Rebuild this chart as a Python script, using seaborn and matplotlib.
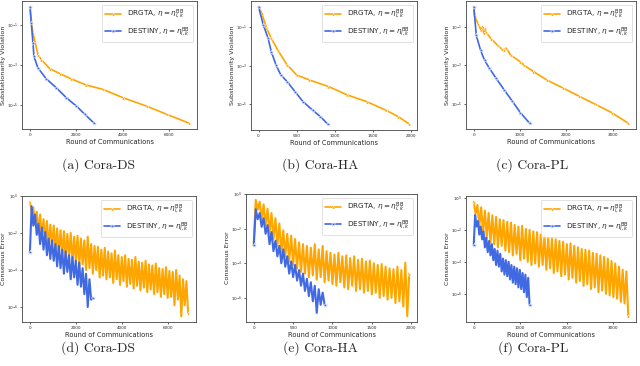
import numpy as np
import pandas as pd
import matplotlib
matplotlib.use("Agg")
import matplotlib.pyplot as plt
import seaborn as sns
from matplotlib.ticker import NullLocator

ORANGE = "orange"
BLUE = "royalblue"

# ---- top row: substationarity violation (log10 values) ----
ds_drgta_x = [0, 58, 130, 345, 490, 850, 1280, 1780, 2400, 3150, 4010, 5020, 5880, 6850]
ds_drgta_y = [-0.07, -0.73, -1.4, -2.48, -2.73, -3.18, -3.43, -3.7, -4.0, -4.23, -4.65, -5.07, -5.48, -5.93]
ds_destiny_x = [0, 58, 130, 173, 345, 705, 1137, 1570, 2000, 2360, 2760]
ds_destiny_y = [-0.07, -0.9, -1.9, -2.57, -3.15, -3.7, -4.15, -4.65, -5.07, -5.48, -5.93]

ha_drgta_x = [0, 42, 104, 167, 250, 375, 500, 667, 917, 1167, 1417, 1667, 1833, 1980]
ha_drgta_y = [0.05, -0.27, -1.05, -1.57, -2.18, -2.96, -3.48, -3.74, -4.08, -4.52, -4.86, -5.3, -5.64, -6.03]
ha_destiny_x = [0, 62, 125, 167, 229, 292, 375, 479, 583, 708, 812, 908]
ha_destiny_y = [0.05, -0.88, -1.57, -2.27, -2.96, -3.48, -3.82, -4.35, -4.86, -5.3, -5.64, -6.03]

pl_drgta_x = [0, 21, 92, 162, 190, 215, 240, 268, 374, 515, 600, 656, 700, 797, 1009, 1080,
              1291, 1574, 1927, 2280, 2633, 2985, 3338]
pl_drgta_y = [0.02, -0.44, -0.86, -1.2, -1.0, -1.35, -1.1, -1.3, -1.63, -1.97, -2.15, -2.23, -2.1,
              -2.48, -2.82, -2.99, -3.33, -3.76, -4.18, -4.61, -5.03, -5.46, -6.0]
pl_destiny_x = [0, 56, 148, 233, 339, 480, 656, 833, 1009, 1207]
pl_destiny_y = [0.02, -1.46, -2.23, -2.74, -3.16, -3.67, -4.27, -4.86, -5.46, -6.0]

# ---- bottom row: consensus error (log10 values, logged every `step` rounds) ----
ds_step = 74
ds_drgta_err = [-0.33, -0.8, -0.62, -1.55, -0.85, -1.95, -1.0, -2.2, -1.25, -2.5, -1.35, -2.75,
                -1.55, -2.7, -1.6, -3.0, -1.75, -3.1, -1.85, -3.2, -1.9, -3.4, -2.05, -3.3,
                -2.0, -3.6, -2.2, -3.55, -2.15, -3.8, -2.3, -3.7, -2.4, -4.0, -2.2, -3.9,
                -2.6, -4.2, -2.7, -4.0, -2.75, -4.4, -2.9, -4.3, -2.8, -4.5, -3.0, -4.4,
                -3.1, -4.7, -2.95, -4.5, -3.2, -4.8, -3.3, -4.6, -3.2, -4.9, -3.4, -4.75,
                -3.45, -5.0, -3.3, -4.85, -3.55, -5.1, -3.6, -4.95, -3.5, -5.2, -3.7, -5.05,
                -3.75, -5.3, -3.65, -5.2, -3.9, -5.45, -3.95, -5.3, -3.85, -5.5, -4.05, -5.45,
                -4.1, -5.9, -4.0, -5.6, -4.3, -6.5, -4.5, -5.9, -4.6, -6.3]
ds_destiny_err = [-3.05, -0.55, -1.6, -1.0, -2.1, -1.5, -2.6, -1.7, -2.9, -1.95, -3.2, -2.3,
                  -3.4, -2.4, -3.5, -2.6, -3.8, -2.7, -3.9, -2.9, -4.2, -3.0, -4.1, -3.2,
                  -4.5, -3.3, -4.4, -3.5, -4.8, -3.6, -4.9, -3.9, -5.3, -4.2, -6.0, -4.5,
                  -5.6, -5.5]

ha_step = 25
ha_drgta_err = [-2.8, -0.34, -0.9, -0.45, -1.5, -0.6, -1.8, -0.85, -2.3, -1.1, -2.6, -1.4,
                -3.0, -1.7, -3.4, -2.1, -3.6, -2.3, -3.9, -2.4, -4.1, -2.6, -4.3, -2.8,
                -4.5, -2.9, -4.6, -3.0, -4.8, -3.1, -4.7, -2.9, -4.95, -3.2, -4.8, -3.0,
                -5.1, -3.3, -5.0, -3.4, -5.2, -3.5, -5.3, -3.4, -5.1, -3.6, -5.4, -3.55,
                -5.5, -3.7, -5.3, -3.6, -5.6, -3.8, -5.5, -3.75, -5.7, -3.9, -5.6, -3.85,
                -5.8, -4.0, -5.7, -4.1, -6.0, -4.05, -5.9, -4.2, -6.1, -4.3, -6.0, -4.35,
                -6.3, -4.2, -6.2, -4.4, -6.5, -3.97, -7.06, -4.6]
ha_destiny_err = [-2.97, -0.88, -1.46, -1.1, -1.9, -1.4, -2.3, -1.8, -2.9, -2.2, -3.3, -2.7,
                  -3.6, -3.0, -4.0, -3.2, -4.2, -3.6, -4.6, -3.9, -4.8, -4.1, -5.0, -4.4,
                  -5.3, -4.6, -5.6, -4.9, -5.9, -5.1, -6.2, -5.3, -6.87, -5.5, -6.4, -5.7,
                  -6.4]

pl_drgta_step = 40
pl_drgta_err = [-0.25, -1.0, -0.45, -1.8, -0.6, -2.2, -0.8, -2.5, -0.95, -2.8, -1.1, -2.9,
                -1.2, -3.1, -1.35, -3.0, -1.4, -3.3, -1.5, -3.4, -1.55, -3.6, -1.7, -3.5,
                -1.8, -3.9, -1.75, -3.8, -1.95, -4.0, -2.0, -4.2, -2.1, -4.1, -2.15, -4.3,
                -2.3, -4.2, -2.35, -4.5, -2.5, -4.4, -2.55, -4.7, -2.6, -4.6, -2.7, -4.9,
                -2.75, -4.8, -2.9, -5.1, -2.85, -5.0, -3.0, -5.3, -3.1, -5.2, -3.2, -5.5,
                -3.25, -5.4, -3.3, -5.7, -3.45, -5.6, -3.5, -5.9, -3.6, -5.8, -3.7, -6.0,
                -3.8, -6.1, -3.95, -6.2, -4.1, -6.3, -4.3, -6.5, -4.5, -6.6, -4.6, -7.4]
pl_destiny_step = 30
pl_destiny_err = [-2.96, -1.08, -1.8, -1.45, -2.3, -1.8, -2.6, -2.1, -3.1, -2.5, -3.4, -2.7,
                  -3.6, -2.9, -3.9, -3.2, -4.2, -3.3, -4.3, -3.5, -4.6, -3.8, -4.8, -3.9,
                  -4.9, -4.0, -5.1, -4.2, -5.3, -4.3, -5.4, -4.4, -5.6, -4.5, -5.7, -4.7,
                  -5.9, -4.8, -6.2, -5.0, -6.7]

xticks_ds = [0, 2000, 4000, 6000]
xticks_ha = [0, 500, 1000, 1500, 2000]
xticks_pl = [0, 1000, 2000, 3000]

captions_top = ["(a) Cora-DS", "(b) Cora-HA", "(c) Cora-PL"]
captions_bottom = ["(d) Cora-DS", "(e) Cora-HA", "(f) Cora-PL"]
lab_drgta = r"DRGTA, $\eta = \eta^{\mathrm{BB}}_{l,k}$"
lab_destiny = r"DESTINY, $\eta = \eta^{\mathrm{BB}}_{l,k}$"

sns.set_theme(style="ticks", rc={
    "axes.edgecolor": "#444444",
    "axes.linewidth": 0.6,
    "xtick.major.size": 1.5,
    "ytick.major.size": 1.5,
    "xtick.major.width": 0.5,
    "ytick.major.width": 0.5,
    "xtick.labelsize": 3.0,
    "ytick.labelsize": 3.0,
    "xtick.major.pad": 1.5,
    "ytick.major.pad": 1.2,
})

fig = plt.figure(figsize=(6.4, 3.66), dpi=100)


def px_axes(l, t, r, b):
    W, H = 640, 366
    return fig.add_axes([l / W, 1 - b / H, (r - l) / W, (b - t) / H])


def draw(ax, xo, yo, xb, yb, ylabel, yticks, xticks, noisy):
    ax.set_yscale("log")
    lw = 1.5 if noisy else 1.2
    d1 = pd.DataFrame({"x": xo, "y": 10.0 ** np.array(yo)})
    d2 = pd.DataFrame({"x": xb, "y": 10.0 ** np.array(yb)})
    kw_o = dict(marker="^", ms=2.2, mew=0.3)
    kw_b = dict(marker="*", ms=3.5, mew=0.3)
    if noisy:
        kw_o["markevery"] = [0, len(xo) - 1]
        kw_b["markevery"] = [0, len(xb) - 1]
    sns.lineplot(data=d1, x="x", y="y", ax=ax, color=ORANGE, lw=lw,
                 estimator=None, label=lab_drgta, **kw_o)
    sns.lineplot(data=d2, x="x", y="y", ax=ax, color=BLUE, lw=lw,
                 estimator=None, label=lab_destiny, **kw_b)
    ax.set_yticks(yticks)
    ax.set_xticks(xticks)
    ax.yaxis.set_minor_locator(NullLocator())
    for s in ax.spines.values():
        s.set_visible(True)
    ax.set_xlabel("Round of Communications", fontsize=4.8, labelpad=1)
    ax.set_ylabel(ylabel, fontsize=4.6, labelpad=0.8)
    leg = ax.legend(loc="upper right", fontsize=5.2, handlelength=2.2,
                    borderpad=0.5, labelspacing=0.6, framealpha=0.8)
    leg.get_frame().set_linewidth(0.5)
    for line in leg.get_lines():
        line.set_linewidth(1.2)


top = [
    ((22, 1, 197, 129), ds_drgta_x, ds_drgta_y, ds_destiny_x, ds_destiny_y, xticks_ds),
    ((251, 1, 417, 130), ha_drgta_x, ha_drgta_y, ha_destiny_x, ha_destiny_y, xticks_ha),
    ((466, 1, 636, 129), pl_drgta_x, pl_drgta_y, pl_destiny_x, pl_destiny_y, xticks_pl),
]
for box, xo, yo, xb, yb, xt in top:
    ax = px_axes(*box)
    draw(ax, xo, yo, xb, yb, "Substationarity Violation", [1e-1, 1e-3, 1e-5], xt, False)

bottom = [
    ((22, 196, 196, 322), ds_step, ds_drgta_err, ds_step, ds_destiny_err, xticks_ds),
    ((246, 194, 417, 322), ha_step, ha_drgta_err, ha_step, ha_destiny_err, xticks_ha),
    ((466, 196, 636, 322), pl_drgta_step, pl_drgta_err, pl_destiny_step, pl_destiny_err, xticks_pl),
]
for box, so, eo, sb, eb, xt in bottom:
    ax = px_axes(*box)
    xo = np.arange(len(eo)) * so
    xb = np.arange(len(eb)) * sb
    draw(ax, xo, eo, xb, eb, "Consensus Error", [1e0, 1e-2, 1e-4, 1e-6], xt, True)

for cx, txt in zip([98, 320, 532], captions_top):
    fig.text(cx / 640, 1 - 165 / 366, txt, ha="center", va="center",
             fontsize=9.8, family="cmr10")
for cx, txt in zip([98, 320, 533], captions_bottom):
    fig.text(cx / 640, 1 - 348 / 366, txt, ha="center", va="center",
             fontsize=9.8, family="cmr10")

fig.savefig("out.png", dpi=100)
